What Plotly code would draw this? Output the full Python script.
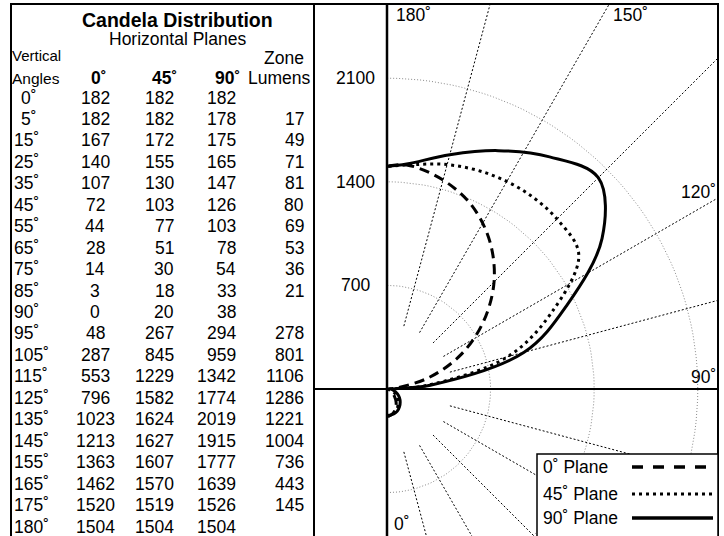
import math
import plotly.graph_objects as go

# ---------------- data ----------------
vertical_angles = [0, 5, 15, 25, 35, 45, 55, 65, 75, 85, 90, 95, 105, 115, 125, 135, 145, 155, 165, 175, 180]
cd_0 = [182, 182, 167, 140, 107, 72, 44, 28, 14, 3, 0, 48, 287, 553, 796, 1023, 1213, 1363, 1462, 1520, 1504]
cd_45 = [182, 182, 172, 155, 130, 103, 77, 51, 30, 18, 20, 267, 845, 1229, 1582, 1624, 1627, 1607, 1570, 1519, 1504]
cd_90 = [182, 178, 175, 165, 147, 126, 103, 78, 54, 33, 38, 294, 959, 1342, 1774, 2019, 1915, 1777, 1639, 1526, 1504]
zone_lumens = [None, 17, 49, 71, 81, 80, 69, 53, 36, 21, None, 278, 801, 1106, 1286, 1221, 1004, 736, 443, 145, None]

plane_names = ["0˚ Plane", "45˚ Plane", "90˚ Plane"]
ring_values = [700, 1400, 2100]
spoke_angles = [15, 30, 45, 60, 75, 105, 120, 135, 150, 165]
angle_labels = ["180˚", "150˚", "120˚", "90˚", "0˚"]

# ---------------- layout geometry ----------------
W, H = 724, 536
S = 0.148            # pixels per candela
CX, CY = 387, 389    # pole position in pixels
PL, PR, PT = 314, 718, 4
FONT = "Liberation Sans, Arial, Helvetica, sans-serif"


def px(x):
    return x / W


def py(y):
    return 1 - y / H


def polar_xy(r_list, a_list):
    xs, ys = [], []
    for r, a in zip(r_list, a_list):
        t = math.radians(a)
        xs.append(r * math.sin(t))
        ys.append(-r * math.cos(t))
    return xs, ys


fig = go.Figure()

# rings
for rv in ring_values:
    ang = list(range(0, 181, 2))
    xs, ys = polar_xy([rv] * len(ang), ang)
    fig.add_trace(go.Scatter(x=xs, y=ys, mode="lines", hoverinfo="skip",
                             line=dict(color="#8a8a8a", width=1, dash="1px,2px"),
                             showlegend=False))
# spokes
for a in spoke_angles:
    xs, ys = polar_xy([440, 6000], [a, a])
    fig.add_trace(go.Scatter(x=xs, y=ys, mode="lines", hoverinfo="skip",
                             line=dict(color="black", width=1, dash="2px,2px"),
                             showlegend=False))

# candela curves
styles = [dict(dash="10px,6px", width=3), dict(dash="3px,4px", width=3), dict(dash="solid", width=3)]
for name, vals, st in zip(plane_names, [cd_0, cd_45, cd_90], styles):
    xs, ys = polar_xy(vals, vertical_angles)
    fig.add_trace(go.Scatter(x=xs, y=ys, mode="lines", name=name,
                             line=dict(color="black", width=st["width"], dash=st["dash"],
                                       shape="spline", smoothing=1.0),
                             showlegend=False))

annotations = []


def ann(text, x, y, xanchor="center", size=17.5, bold=False, family=FONT):
    annotations.append(dict(
        text=("<b>%s</b>" % text) if bold else text,
        x=px(x), y=py(y), xref="paper", yref="paper",
        xanchor=xanchor, yanchor="middle", showarrow=False,
        font=dict(family=family, size=size, color="black"), borderpad=0))


# table header
ann("Candela Distribution", 177, 20, size=19.5, bold=True)
ann("Horizontal Planes", 177, 39)
ann("Vertical", 11, 55, xanchor="left", size=15)
ann("Angles", 11, 78, xanchor="left", size=15.5)
ann("Zone", 284, 58)
ann("Lumens", 279, 78)
ann("0˚", 99, 78, bold=True)
ann("45˚", 164, 78, bold=True)
ann("90˚", 228, 78, bold=True)

ROW0, ROWH = 97.5, 21.45
for i, a in enumerate(vertical_angles):
    yy = ROW0 + i * ROWH
    ann("%d˚" % a, 20 if a < 10 else 13, yy, xanchor="left")
    ann(str(cd_0[i]), 95, yy)
    ann(str(cd_45[i]), 175, yy, xanchor="right")
    ann(str(cd_90[i]), 237, yy, xanchor="right")
    if zone_lumens[i] is not None:
        ann(str(zone_lumens[i]), 305, yy, xanchor="right")

# radial labels
for rv in ring_values:
    annotations.append(dict(text=str(rv), x=px(355), y=rv, xref="paper", yref="y",
                            xanchor="center", yanchor="middle", showarrow=False,
                            font=dict(family=FONT, size=17.5, color="black")))

# angle labels
ann(angle_labels[0], 395, 15, xanchor="left")
ann(angle_labels[1], 612, 15, xanchor="left")
ann(angle_labels[2], 717, 192, xanchor="right")
ann(angle_labels[3], 717, 377, xanchor="right")
ann(angle_labels[4], 393, 524, xanchor="left")

# legend text
leg_y = [467, 494, 518]
for name, yy in zip(plane_names, leg_y):
    ann(name, 542, yy, xanchor="left")

shapes = []
LINE = dict(color="black", width=2)
# frame
shapes.append(dict(type="line", xref="paper", yref="paper", x0=px(10), x1=px(PR + 1), y0=py(PT), y1=py(PT), line=LINE))
shapes.append(dict(type="line", xref="paper", yref="paper", x0=px(11), x1=px(11), y0=py(PT), y1=-0.01, line=LINE))
shapes.append(dict(type="line", xref="paper", yref="paper", x0=px(PL), x1=px(PL), y0=py(PT), y1=-0.01, line=LINE))
shapes.append(dict(type="line", xref="paper", yref="paper", x0=px(PR), x1=px(PR), y0=py(PT), y1=-0.01, line=LINE))
# axes through the pole
shapes.append(dict(type="line", xref="x", yref="paper", x0=0, x1=0, y0=py(PT), y1=-0.01,
                   line=dict(color="black", width=2.5)))
shapes.append(dict(type="line", xref="paper", yref="y", x0=px(PL), x1=px(PR), y0=0, y1=0, line=LINE))
# legend box
shapes.append(dict(type="rect", xref="paper", yref="paper", x0=px(537), x1=px(PR), y0=py(454), y1=-0.02,
                   line=dict(color="black", width=1.5), fillcolor="white"))
leg_styles = [dict(dash="11px,10px", width=3.5), dict(dash="3px,4px", width=3), dict(dash="solid", width=3.5)]
for st, yy in zip(leg_styles, leg_y):
    shapes.append(dict(type="line", xref="paper", yref="paper", x0=px(632), x1=px(713), y0=py(yy), y1=py(yy),
                       line=dict(color="black", width=st["width"], dash=st["dash"])))

fig.update_layout(
    width=W, height=H,
    margin=dict(l=0, r=0, t=0, b=0),
    paper_bgcolor="white", plot_bgcolor="white",
    xaxis=dict(domain=[px(PL), px(PR)], range=[(PL - CX) / S, (PR - CX) / S],
               visible=False, fixedrange=True),
    yaxis=dict(domain=[0, py(PT)], range=[-(H - CY) / S, (CY - PT) / S],
               visible=False, fixedrange=True),
    annotations=annotations,
    shapes=shapes,
    showlegend=False,
)

fig.write_html("out.html", config={"displayModeBar": False},
               post_script="document.body.style.margin='0';document.body.style.overflow='hidden';")
